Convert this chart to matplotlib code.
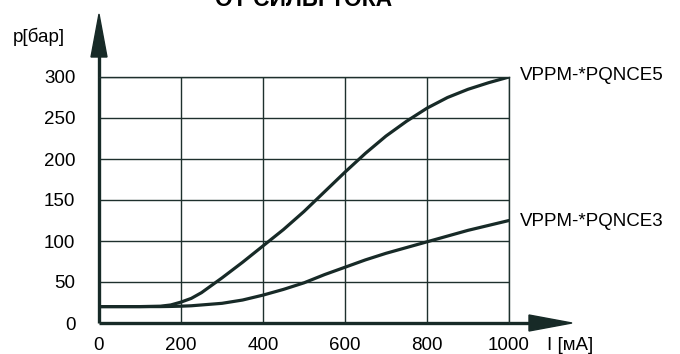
import matplotlib
matplotlib.use("Agg")
import matplotlib.pyplot as plt
from matplotlib.patches import Polygon

# current, mA
current = [0, 100, 150, 175, 200, 225, 250, 300, 350, 400, 450, 500, 550, 600,
           650, 700, 750, 800, 850, 900, 950, 1000]
# pressure, bar
p_ce5 = [20, 20, 20.5, 22, 25.5, 30, 37, 55, 74, 94, 114, 136, 160, 184,
         207, 228, 246, 262, 275, 285, 293, 300]
p_ce3 = [20, 20, 20, 20.2, 20.5, 21, 22, 24, 28, 34, 41, 49, 59, 68,
         77, 85, 92, 99, 106, 113, 119, 125]
series_names = ["VPPM-*PQNCE5", "VPPM-*PQNCE3"]
x_ticks = [0, 200, 400, 600, 800, 1000]
y_ticks = [0, 50, 100, 150, 200, 250, 300]

plt.rcParams["font.family"] = ["Liberation Sans", "DejaVu Sans"]
ink = "#172a27"
grid_c = "#1e302d"

W, H = 680, 354
fig = plt.figure(figsize=(W / 100, H / 100), dpi=100)
x0, x1, y0, y1 = 99, 509, 323, 77
ax = fig.add_axes([x0 / W, 1 - y0 / H, (x1 - x0) / W, (y0 - y1) / H])

ax.plot(current, p_ce5, color=ink, lw=2.3, solid_capstyle="round")
ax.plot(current, p_ce3, color=ink, lw=2.3, solid_capstyle="round")

ax.set_xlim(0, 1000)
ax.set_ylim(0, 300)
ax.set_xticks(x_ticks)
ax.set_yticks(y_ticks)
ax.grid(True, color=grid_c, lw=1.0)
ax.set_axisbelow(True)
for s in ["top", "right"]:
    ax.spines[s].set_color(grid_c)
    ax.spines[s].set_linewidth(1.0)
for s in ["left", "bottom"]:
    ax.spines[s].set_visible(False)
ax.tick_params(axis="both", length=0, labelsize=13.5, colors="black")
ax.tick_params(axis="y", pad=17)
ax.tick_params(axis="x", pad=10)

# arrowed axes
sx = 1.0 / (x1 - x0)
sy = 1.0 / (y0 - y1)
ax.plot([0, 0], [0, (y0 - 50) * sy], color=ink, lw=2.4, transform=ax.transAxes,
        clip_on=False, solid_capstyle="butt")
ax.plot([0, (535 - x0) * sx], [0, 0], color=ink, lw=2.4, transform=ax.transAxes,
        clip_on=False, solid_capstyle="butt")
ax.add_patch(Polygon([(-8 * sx, (y0 - 57) * sy), (8 * sx, (y0 - 57) * sy),
                      (0, (y0 - 14) * sy)], closed=True, color=ink,
                     transform=ax.transAxes, clip_on=False))
ax.add_patch(Polygon([((529 - x0) * sx, -8 * sy), ((529 - x0) * sx, 8 * sy),
                      ((572 - x0) * sx, 0)], closed=True, color=ink,
                     transform=ax.transAxes, clip_on=False))

# labels
fig.text(13 / W, 1 - 37 / H, "p[бар]", fontsize=13.5, va="center", ha="left")
fig.text(547 / W, 1 - 345 / H, "I [мА]", fontsize=13.5, va="center", ha="left")
fig.text(520 / W, 1 - 76 / H, series_names[0], fontsize=13.5, va="center", ha="left")
fig.text(520 / W, 1 - 221 / H, series_names[1], fontsize=13.5, va="center", ha="left")
# title sits partly above the top edge, as in the source image
fig.text(304 / W, 1 - 6 / H, "ЗАВИСИМОСТЬ ДАВЛЕНИЯ\nОТ СИЛЫ ТОКА", fontsize=16.5,
         fontweight="bold", ha="center", va="baseline", multialignment="center")

fig.savefig("out.png", dpi=100)
